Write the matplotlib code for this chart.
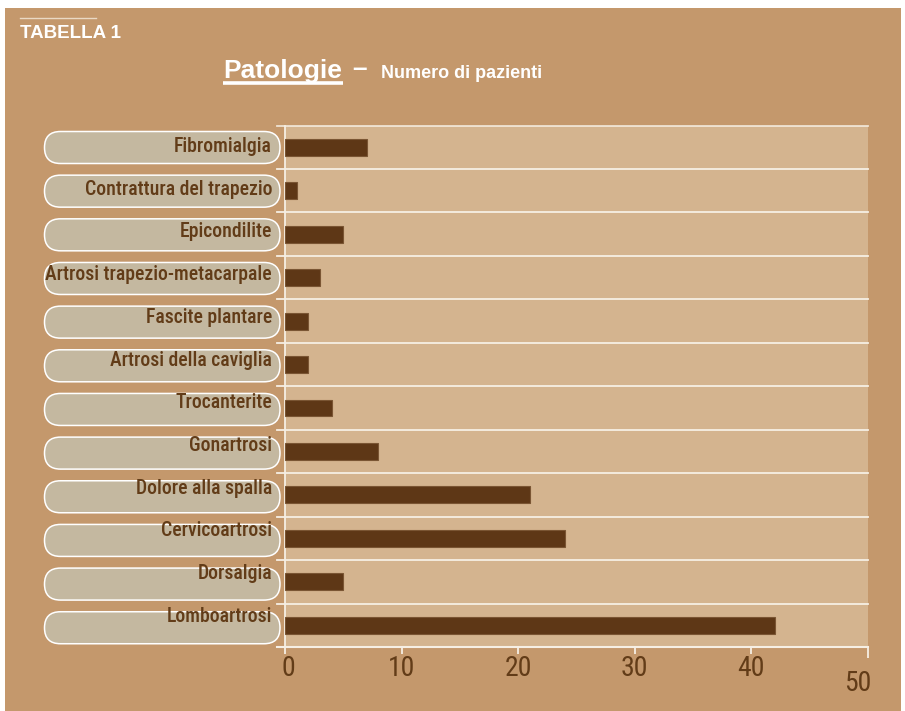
import matplotlib
matplotlib.use('Agg')
import matplotlib.pyplot as plt
from matplotlib import font_manager
from matplotlib.patches import FancyBboxPatch, Rectangle
from matplotlib.transforms import ScaledTranslation

# Patologie e numero di pazienti
patologie = ['Fibromialgia', 'Contrattura del trapezio', 'Epicondilite',
             'Artrosi trapezio-metacarpale', 'Fascite plantare',
             'Artrosi della caviglia', 'Trocanterite', 'Gonartrosi',
             'Dolore alla spalla', 'Cervicoartrosi', 'Dorsalgia', 'Lomboartrosi']
pazienti = [7, 1, 5, 3, 2, 2, 4, 8, 21, 24, 5, 42]
x_ticks = [0, 10, 20, 30, 40, 50]

bg_color = '#c4986c'
plot_color = '#d4b48f'
pill_color = '#c4b8a0'
bar_color = '#5e3716'
text_color = '#623c18'
line_color = '#f6efe4'
bold_sans = ['Liberation Sans', 'DejaVu Sans']

# pick a condensed face if one is installed
fonts = font_manager.fontManager.ttflist
names = {f.name for f in fonts}
narrow_props = None
for fam in ['Liberation Sans Narrow', 'Roboto Condensed', 'Open Sans Condensed']:
    if fam in names:
        narrow_props = dict(family=[fam, 'DejaVu Sans'], stretch='normal', scale=1.0)
        break
if narrow_props is None:
    if any(f.name == 'DejaVu Sans' and str(f.stretch) in ('condensed', 'semi-condensed') for f in fonts):
        narrow_props = dict(family=['DejaVu Sans'], stretch='condensed', scale=0.97)
    elif 'Roboto' in names:
        narrow_props = dict(family=['Roboto', 'DejaVu Sans'], stretch='normal', scale=0.9)
    else:
        narrow_props = dict(family=['Liberation Sans', 'DejaVu Sans'], stretch='normal', scale=0.88)
nfam = narrow_props['family']
nstretch = narrow_props['stretch']
nscale = narrow_props['scale']

W, H = 905, 711
fig = plt.figure(figsize=(W / 100, H / 100), dpi=100, facecolor='white')

# pixel-space canvas for the background, pills and title
bg = fig.add_axes([0, 0, 1, 1], zorder=0)
bg.set_xlim(0, W)
bg.set_ylim(H, 0)
bg.axis('off')
bg.add_patch(Rectangle((5, 8), 896, H - 8, facecolor=bg_color, edgecolor='none'))

# plot area in pixels
left, right, top, bottom = 285, 868, 125.5, 647
ax = fig.add_axes([left / W, (H - bottom) / H, (right - left) / W, (bottom - top) / H], zorder=1)
ax.set_facecolor(plot_color)

n = len(patologie)
ypos = list(range(n))
ax.barh(ypos, pazienti, height=0.39, color=bar_color, edgecolor='#7a5533', linewidth=0.8, zorder=3)
ax.set_ylim(n - 0.5, -0.5)
ax.set_xlim(0, 50)

# horizontal separators, running a little past the left axis
ext = -8 / (right - left)
for i in range(n):
    ax.plot([ext, 1], [i - 0.5, i - 0.5], transform=ax.get_yaxis_transform(),
            color=line_color, lw=1.3, alpha=0.85 if i == 0 else 1, clip_on=False, zorder=2)
ax.plot([ext, 1], [n - 0.5, n - 0.5], transform=ax.get_yaxis_transform(),
        color=line_color, lw=1.5, clip_on=False, zorder=4)

for s in ['top', 'right', 'bottom']:
    ax.spines[s].set_visible(False)
ax.spines['left'].set_color(line_color)
ax.spines['left'].set_linewidth(1.3)
ax.set_yticks([])

ax.set_xticks(x_ticks)
ax.set_xticklabels([str(t) for t in x_ticks])
ax.tick_params(axis='x', colors=line_color, length=5, width=1.3, pad=1,
               labelcolor=text_color, labelsize=20 * nscale)
for lbl in ax.get_xticklabels():
    lbl.set_family(nfam)
    lbl.set_stretch(nstretch)
ax.get_xticklines()[-2].set_markersize(8)
first = ax.get_xticklabels()[0]
first.set_transform(first.get_transform() + ScaledTranslation(0.03, 0, fig.dpi_scale_trans))
last = ax.get_xticklabels()[-1]
last.set_transform(last.get_transform() + ScaledTranslation(-0.1, -0.15, fig.dpi_scale_trans))

# rounded label boxes with the category names
row_h = (bottom - top) / n
for i, name in enumerate(patologie):
    row_top = top + i * row_h
    pill_top = row_top + 6 + 0.2 * i
    bg.add_patch(FancyBboxPatch((44.5, pill_top), 235.5, 32,
                                boxstyle='round,pad=0,rounding_size=16',
                                facecolor=pill_color, edgecolor='white', linewidth=1.1))
    bg.text(272, row_top + 21 - 0.75 * i, name, ha='right', va='center',
            fontsize=14.2 * nscale, color=text_color, family=nfam, stretch=nstretch,
            fontweight='medium')

# title block
bg.plot([20, 96], [18, 18], color='#ead9c4', lw=1)
bg.text(20, 38, 'TABELLA 1', fontsize=13.5, fontweight='bold', color='white',
        family=bold_sans, va='baseline')
bg.text(223, 78, 'Patologie', fontsize=19, fontweight='bold', color='white',
        family=bold_sans, va='baseline')
bg.plot([223, 343], [82.5, 82.5], color='white', lw=2.6, solid_capstyle='butt')
bg.text(352, 76, '–', fontsize=19, fontweight='bold', color='white',
        family=bold_sans, va='baseline')
bg.text(381, 78, 'Numero di pazienti', fontsize=13, fontweight='bold', color='white',
        family=bold_sans, va='baseline')

fig.savefig('out.png', dpi=100, facecolor='white')
